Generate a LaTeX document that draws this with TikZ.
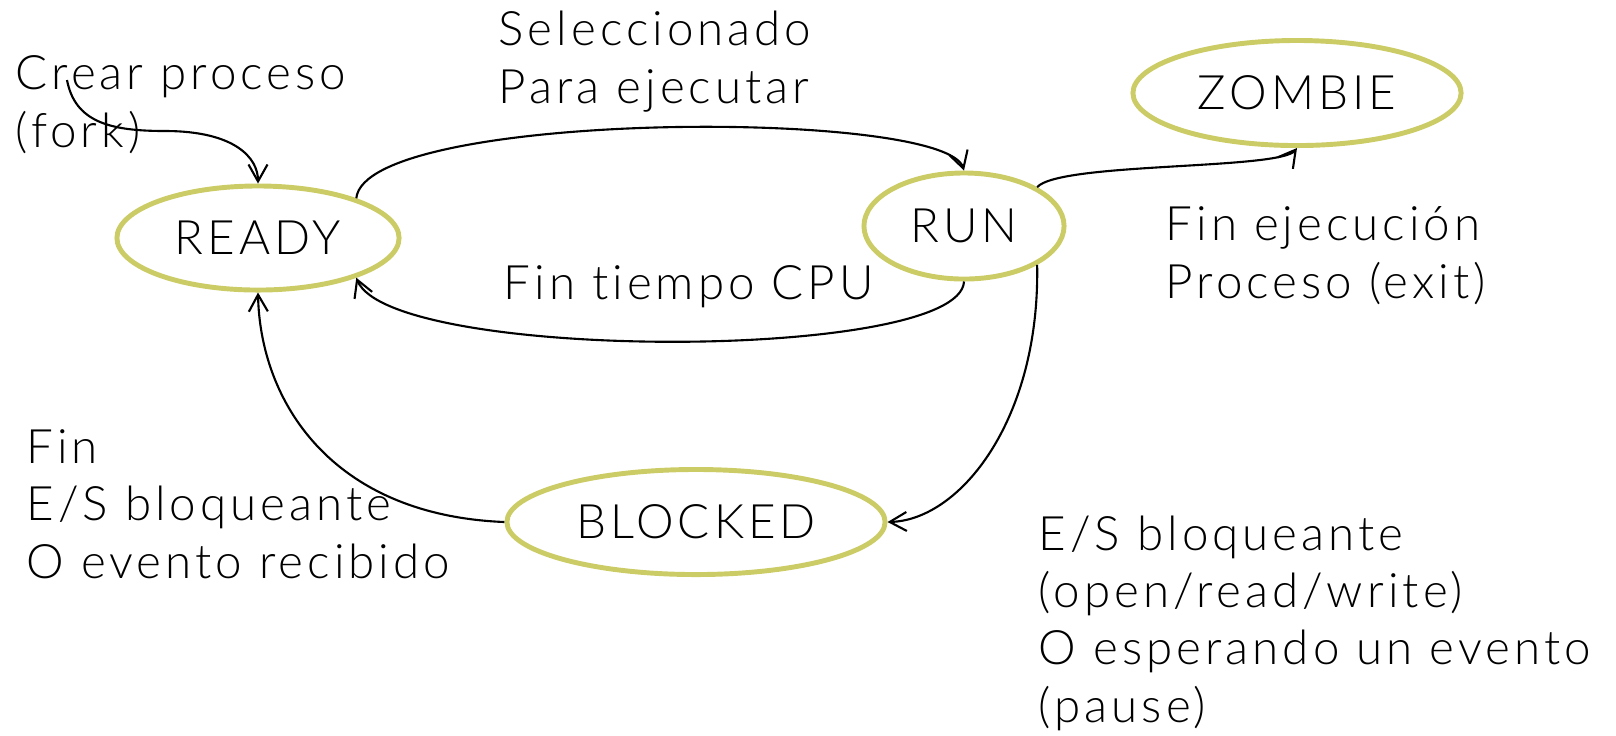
\documentclass[tikz,border=0pt]{standalone}
\usepackage{fontspec}
\IfFontExistsTF{Lato Light}
  {\setmainfont{Lato Light}[Ligatures=NoCommon, LetterSpace=8.5]}
  {\setmainfont{Lato}[Ligatures=NoCommon, LetterSpace=8.5]}
\usetikzlibrary{shapes.geometric,arrows.meta}
\definecolor{stateline}{RGB}{204,204,102}
\tikzset{
  state/.style={ellipse, draw=stateline, line width=1.4pt, fill=white,
    inner sep=0pt, font=\fontsize{13.5pt}{16.3pt}\selectfont},
  note/.style={anchor=base west, inner sep=0pt, align=left,
    font=\fontsize{13.5pt}{16.3pt}\selectfont},
  trans/.style={line width=0.6pt, -{Straight Barb[length=4.8pt,width=5.4pt]}}
}
\begin{document}
\begin{tikzpicture}[x=0.01cm, y=-0.01cm]
\useasboundingbox (0,0) rectangle (1616,735);

% states
\node[state, minimum width=2.82cm, minimum height=1.04cm] (ready)   at (258,238) {READY};
\node[state, minimum width=2.00cm, minimum height=1.06cm] (run)     at (964,226) {RUN};
\node[state, minimum width=3.28cm, minimum height=1.05cm] (zombie)  at (1297,93) {ZOMBIE};
\node[state, minimum width=3.78cm, minimum height=1.05cm] (blocked) at (696,522) {BLOCKED};

% labels (anchored at the baseline of their last line)
\node[note] (crear) at (15,147)   {Crear proceso\\(fork)};
\node[note] (sel)   at (498,103)  {Seleccionado\\Para ejecutar};
\node[note] (cpu)   at (503,299)  {Fin tiempo CPU};
\node[note] (fin)   at (1165,298) {Fin ejecución\\Proceso (exit)};
\node[note] (finio) at (26,578)   {Fin\\E/S bloqueante\\O evento recibido};
\node[note] (io)    at (1038,722) {E/S bloqueante\\(open/read/write)\\O esperando un evento\\(pause)};

% transitions
\coordinate (forkstart) at (67,80);
\draw[trans] (forkstart) .. controls (75,122) and (110,131) .. (165,131)
                         .. controls (235,131) and (258,158) .. (ready.north);
\draw[trans] (ready.22) .. controls (365,110) and (945,108) .. (run.north);
\draw[trans] (run.south) .. controls (960,362) and (390,362) .. (ready.-22);
\draw[trans] (run.28) .. controls (1060,162) and (1280,170) .. (zombie.south);
\draw[trans] (run.-28) .. controls (1040,420) and (960,520) .. (blocked.east);
\draw[trans] (blocked.west) .. controls (330,515) and (260,400) .. (ready.south);
\end{tikzpicture}
\end{document}
